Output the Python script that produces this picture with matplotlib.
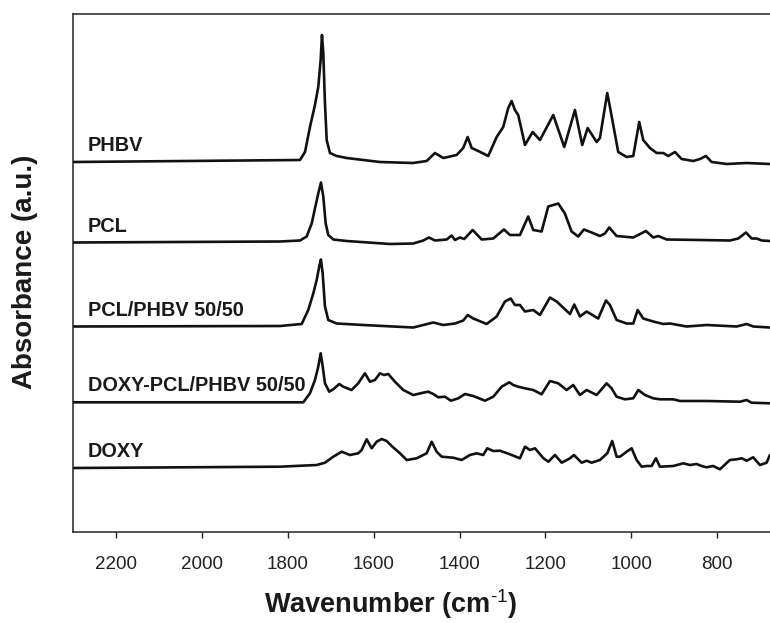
import matplotlib
matplotlib.use("Agg")
import matplotlib.pyplot as plt

plt.rcParams['font.family'] = ['Liberation Sans', 'DejaVu Sans']
plt.rcParams['mathtext.fontset'] = 'custom'
plt.rcParams['mathtext.rm'] = 'Liberation Sans'
plt.rcParams['mathtext.bf'] = 'Liberation Sans:bold'

# ---------------- data ----------------
labels = ["PHBV", "PCL", "PCL/PHBV 50/50", "DOXY-PCL/PHBV 50/50", "DOXY"]
offsets = [3.70, 2.895, 2.055, 1.297, 0.64]   # vertical stacking offsets (a.u.)

phbv_wn = [2300, 1771.5, 1759.8, 1748.2, 1736.6, 1728.9, 1723.3, 1720.3, 1717.2, 1713.3,
           1709.3, 1701.6, 1686.0, 1662.7, 1585.2, 1508.4, 1476.5, 1457.2, 1437.8, 1406.6,
           1391.3, 1381.0, 1371.7, 1356.4, 1333.1, 1313.5, 1298.2, 1286.5, 1278.6, 1271.0,
           1263.3, 1247.6, 1229.7, 1212.7, 1181.7, 1156.1, 1131.2, 1114.2, 1101.6, 1080.7,
           1073.0, 1056.0, 1049.7, 1030.4, 1010.8, 995.4, 981.5, 972.2, 956.6, 941.0,
           925.6, 914.0, 898.3, 882.8, 855.7, 840.1, 826.2, 812.9, 778.0, 731.4, 677.2]
phbv_abs = [0.00, 0.02, 0.10, 0.35, 0.57, 0.75, 1.02, 1.27, 1.09, 0.59,
            0.22, 0.09, 0.06, 0.04, 0.00, -0.01, 0.01, 0.09, 0.04, 0.07,
            0.14, 0.25, 0.14, 0.11, 0.06, 0.25, 0.35, 0.54, 0.61, 0.52,
            0.47, 0.17, 0.30, 0.22, 0.47, 0.15, 0.52, 0.17, 0.34, 0.20,
            0.24, 0.69, 0.55, 0.10, 0.05, 0.06, 0.40, 0.22, 0.14, 0.09,
            0.09, 0.06, 0.10, 0.03, 0.01, 0.03, 0.06, 0.00, -0.02, -0.01, -0.02]

pcl_wn = [2300, 1818.0, 1771.5, 1755.9, 1744.2, 1736.6, 1728.9, 1722.6, 1717.2, 1711.6,
          1705.6, 1693.8, 1662.7, 1561.9, 1507.7, 1484.4, 1471.1, 1457.2, 1429.9, 1418.3,
          1410.6, 1399.0, 1389.0, 1369.4, 1348.4, 1321.4, 1296.5, 1282.6, 1259.3, 1240.0,
          1228.3, 1208.8, 1193.4, 1170.1, 1154.6, 1139.0, 1123.6, 1110.3, 1092.4, 1073.0,
          1061.4, 1051.4, 1034.2, 995.4, 965.9, 948.9, 937.3, 917.7, 840.1, 770.3,
          751.0, 733.0, 719.8, 708.2, 696.5, 677.2]
pcl_abs = [0.00, 0.01, 0.02, 0.06, 0.19, 0.34, 0.49, 0.60, 0.46, 0.19,
           0.075, 0.03, 0.015, -0.015, -0.01, 0.02, 0.05, 0.02, 0.03, 0.07,
           0.025, 0.05, 0.035, 0.125, 0.03, 0.04, 0.13, 0.075, 0.075, 0.26,
           0.125, 0.11, 0.36, 0.39, 0.29, 0.11, 0.06, 0.13, 0.10, 0.065,
           0.09, 0.15, 0.065, 0.05, 0.115, 0.05, 0.065, 0.03, 0.025, 0.02,
           0.04, 0.10, 0.04, 0.04, 0.02, 0.015]

blend_wn = [2300, 1818.0, 1767.5, 1752.2, 1740.5, 1732.6, 1726.6, 1722.6, 1718.6, 1713.3,
            1705.6, 1686.0, 1624.1, 1507.7, 1484.4, 1461.1, 1437.8, 1410.6, 1391.3, 1381.0,
            1368.0, 1336.8, 1313.5, 1294.2, 1280.9, 1271.0, 1259.3, 1247.6, 1228.3, 1212.7,
            1189.4, 1173.8, 1142.8, 1132.8, 1119.6, 1104.0, 1077.0, 1059.0, 1049.7, 1034.2,
            1010.8, 995.4, 985.2, 972.2, 948.9, 925.6, 910.0, 871.1, 824.5, 754.7,
            731.4, 715.9, 677.2]
blend_abs = [0.00, 0.005, 0.025, 0.165, 0.33, 0.465, 0.60, 0.67, 0.53, 0.20,
             0.065, 0.03, 0.015, -0.01, 0.015, 0.04, 0.015, 0.03, 0.06, 0.115,
             0.08, 0.025, 0.10, 0.25, 0.28, 0.215, 0.215, 0.15, 0.165, 0.115,
             0.29, 0.25, 0.125, 0.22, 0.10, 0.15, 0.08, 0.26, 0.215, 0.065,
             0.03, 0.03, 0.165, 0.08, 0.05, 0.025, 0.03, 0.00, 0.015, 0.00,
             0.025, 0.00, -0.01]

doxyblend_wn = [2300, 1818.0, 1763.8, 1748.2, 1736.6, 1728.9, 1723.3, 1719.6, 1713.3, 1703.3,
                1694.0, 1680.0, 1670.7, 1651.3, 1635.9, 1620.3, 1608.5, 1596.9, 1585.2, 1575.9,
                1565.9, 1550.3, 1531.0, 1507.7, 1484.4, 1472.7, 1461.1, 1449.5, 1433.9, 1420.0,
                1402.9, 1387.3, 1368.0, 1340.7, 1321.4, 1301.8, 1284.1, 1274.8, 1263.2, 1247.6,
                1228.3, 1208.8, 1189.4, 1170.1, 1150.5, 1135.1, 1119.6, 1104.0, 1080.7, 1057.5,
                1045.9, 1034.2, 1014.9, 995.4, 983.8, 968.2, 948.9, 933.3, 902.3, 886.7,
                824.5, 747.0, 731.4, 719.8, 677.2]
doxyblend_abs = [0.00, 0.00, 0.00, 0.09, 0.223, 0.356, 0.49, 0.39, 0.19, 0.106,
                 0.13, 0.183, 0.156, 0.123, 0.19, 0.29, 0.206, 0.223, 0.29, 0.273,
                 0.283, 0.206, 0.123, 0.073, 0.096, 0.106, 0.083, 0.05, 0.056, 0.016,
                 0.04, 0.083, 0.063, 0.016, 0.056, 0.156, 0.20, 0.173, 0.156, 0.14,
                 0.123, 0.08, 0.213, 0.19, 0.123, 0.173, 0.073, 0.123, 0.073, 0.19,
                 0.14, 0.056, 0.03, 0.04, 0.123, 0.073, 0.04, 0.03, 0.03, 0.013,
                 0.013, 0.006, 0.023, -0.004, -0.01]

doxy_wn = [2300, 1818.0, 1732.6, 1713.3, 1693.9, 1674.4, 1655.1, 1635.8, 1627.9, 1616.2,
           1604.5, 1592.9, 1581.3, 1569.6, 1558.0, 1538.6, 1523.0, 1499.8, 1476.5, 1464.8,
           1453.2, 1441.6, 1414.6, 1395.0, 1375.7, 1360.1, 1344.8, 1335.4, 1321.4, 1305.8,
           1282.6, 1259.3, 1247.6, 1236.0, 1224.3, 1204.5, 1192.9, 1177.8, 1162.0, 1142.8,
           1133.5, 1115.6, 1104.0, 1092.4, 1073.0, 1056.0, 1044.4, 1034.1, 1026.4, 1010.8,
           999.2, 987.6, 975.9, 964.3, 952.7, 942.6, 933.3, 902.3, 879.0, 863.5,
           847.9, 836.3, 824.6, 809.3, 793.7, 770.4, 754.8, 743.1, 731.4, 716.1,
           700.5, 684.9, 677.2]
doxy_abs = [0.00, 0.013, 0.03, 0.053, 0.113, 0.163, 0.13, 0.147, 0.18, 0.287,
            0.197, 0.263, 0.29, 0.27, 0.22, 0.147, 0.08, 0.097, 0.147, 0.263,
            0.163, 0.113, 0.103, 0.08, 0.13, 0.147, 0.13, 0.197, 0.17, 0.173,
            0.137, 0.097, 0.213, 0.18, 0.197, 0.097, 0.063, 0.13, 0.053, 0.097,
            0.13, 0.053, 0.073, 0.053, 0.08, 0.147, 0.27, 0.113, 0.113, 0.163,
            0.197, 0.08, 0.013, 0.02, 0.02, 0.097, 0.013, 0.02, 0.047, 0.03,
            0.04, 0.02, 0.007, 0.02, -0.013, 0.08, 0.087, 0.097, 0.073, 0.107,
            0.03, 0.053, 0.13]

x_ticks = [2200, 2000, 1800, 1600, 1400, 1200, 1000, 800]
x_label = r'Wavenumber (cm$^{\text{-1}}$)'
y_label = 'Absorbance (a.u.)'

series_wn = [phbv_wn, pcl_wn, blend_wn, doxyblend_wn, doxy_wn]
series_abs = [phbv_abs, pcl_abs, blend_abs, doxyblend_abs, doxy_abs]

# ---------------- figure ----------------
fig = plt.figure(figsize=(7.7, 6.23), dpi=100)
ax = fig.add_axes([73 / 770, (623 - 532) / 623, 1 - 73 / 770, (532 - 14) / 623])

for wn, ab, off, lab in zip(series_wn, series_abs, offsets, labels):
    ax.plot(wn, [a + off for a in ab], color='#111111', lw=1.9,
            solid_joinstyle='round', solid_capstyle='round')
    ax.text(2265, off + 0.11, lab, fontsize=14.3, fontweight='bold',
            color='#1a1a1a', ha='left', va='baseline')

ax.set_xlim(2300, 677)
ax.set_ylim(0, 5.18)
ax.set_xticks(x_ticks)
ax.set_xticklabels([str(t) for t in x_ticks])
ax.set_yticks([])
ax.tick_params(axis='x', direction='out', length=4, width=1, pad=13,
               labelsize=13.5, colors='#222222', top=False)
for s in ['left', 'bottom', 'top']:
    ax.spines[s].set_linewidth(1.1)
    ax.spines[s].set_color('#222222')
ax.spines['right'].set_visible(False)

fig.text(391 / 770, 1 - 613 / 623, x_label, fontsize=19.5, fontweight='bold',
         color='#1a1a1a', ha='center', va='baseline')
fig.text(25 / 770, 1 - 272 / 623, y_label, fontsize=20, fontweight='bold',
         color='#1a1a1a', ha='center', va='center', rotation=90)

fig.savefig("out.png", dpi=100, facecolor='white')
